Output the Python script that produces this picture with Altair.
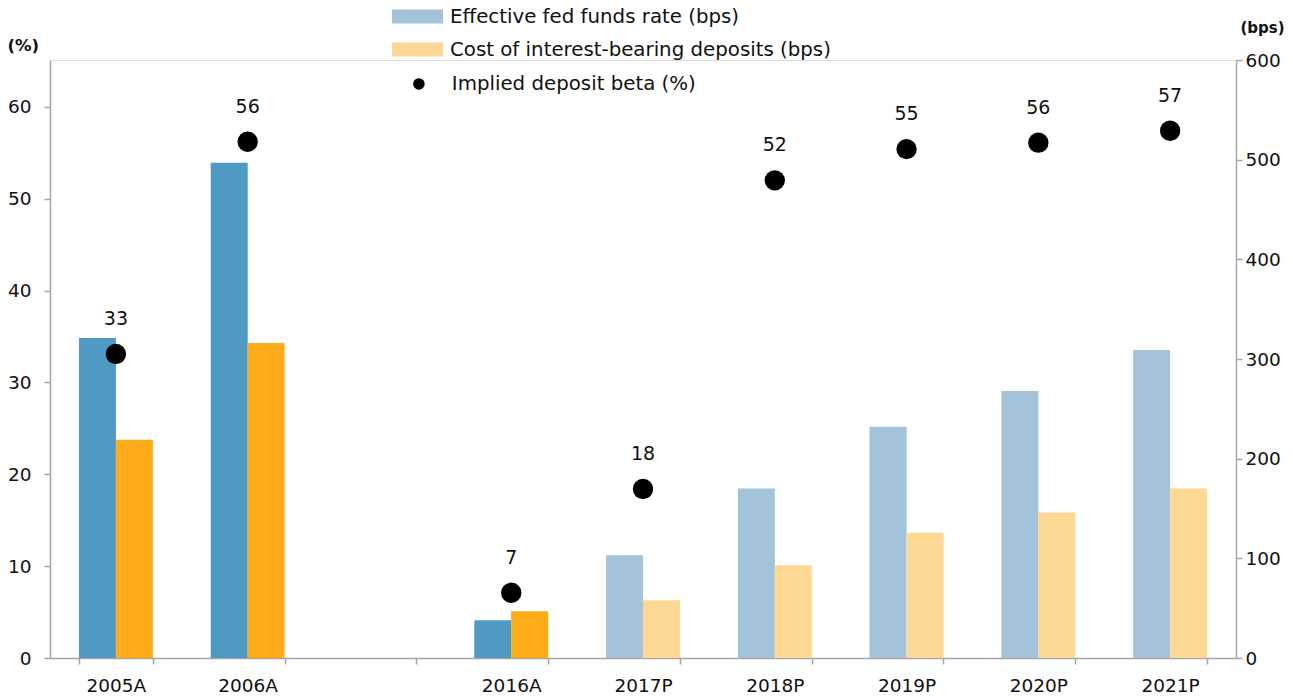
import altair as alt
import pandas as pd

categories = ["2005A", "2006A", " ", "2016A", "2017P", "2018P", "2019P", "2020P", "2021P"]
is_projection = [False, False, False, False, True, True, True, True, True]
fed_funds_bps = [321, 497, None, 38, 103, 170, 232, 268, 309]
deposit_cost_bps = [219, 316, None, 47, 58, 93, 126, 146, 170]
deposit_beta_pct = [33.1, 56.2, None, 7.1, 18.4, 52.0, 55.4, 56.1, 57.4]
beta_labels = ["33", "56", "", "7", "18", "52", "55", "56", "57"]

FED = "Effective fed funds rate (bps)"
DEP = "Cost of interest-bearing deposits (bps)"
BETA = "Implied deposit beta (%)"

rows = []
for c, p, f, d in zip(categories, is_projection, fed_funds_bps, deposit_cost_bps):
    if f is not None:
        rows.append({"cat": c, "series": "a_fed", "val": f,
                     "key": FED if p else "fed_actual"})
    if d is not None:
        rows.append({"cat": c, "series": "b_dep", "val": d,
                     "key": DEP if p else "dep_actual"})
bars_df = pd.DataFrame(rows)
fed_df = bars_df[bars_df.series == "a_fed"]
dep_df = bars_df[bars_df.series == "b_dep"]

beta_df = pd.DataFrame({
    "cat": categories,
    "beta": deposit_beta_pct,
    "label": beta_labels,
    "name": [BETA] * len(categories),
}).dropna()

FONT = "DejaVu Sans"
TXT = "#111111"
AXIS_GRAY = "#a6a6a6"
RECT_PATH = "M-1,-0.27H1V0.27H-1Z"
TICK_FS = 18.5
LEG_FS = 19.8
DOT_FS = 19

x_enc = alt.X(
    "cat:N",
    sort=categories,
    scale=alt.Scale(domain=categories, paddingInner=0.44, paddingOuter=0.22),
    axis=alt.Axis(title=None, tickBand="extent", labelAngle=0, labelFontSize=TICK_FS,
                  labelColor=TXT, labelFont=FONT, labelPadding=12,
                  domainColor=AXIS_GRAY, tickColor=AXIS_GRAY, domainWidth=1.5,
                  tickWidth=1.5, tickSize=6),
)

y_bps = alt.Y(
    "val:Q",
    scale=alt.Scale(domain=[0, 600], nice=False),
    axis=alt.Axis(orient="right", values=[0, 100, 200, 300, 400, 500, 600],
                  title="(bps)", titleAngle=0, titleX=4, titleY=-33,
                  titleAlign="left", titleBaseline="middle", titleFontSize=15,
                  titleFont=FONT, titleFontWeight="bold", titleColor=TXT,
                  labelFontSize=TICK_FS, labelFont=FONT, labelColor=TXT,
                  labelPadding=3, grid=False, domainColor=AXIS_GRAY,
                  tickColor=AXIS_GRAY, domainWidth=1.5, tickWidth=1.5, tickSize=6),
)

xoff = alt.XOffset("series:N", scale=alt.Scale(domain=["a_fed", "b_dep"], paddingInner=0, paddingOuter=0))

fed_bars = alt.Chart(fed_df).mark_bar(size=37).encode(
    x=x_enc,
    xOffset=xoff,
    y=y_bps,
    color=alt.Color(
        "key:N",
        scale=alt.Scale(domain=[FED, "fed_actual"], range=["#a3c3da", "#4f9ac2"]),
        legend=alt.Legend(values=[FED], title=None, orient="none", legendX=342, legendY=-69,
                          symbolType=RECT_PATH, symbolSize=2601, symbolStrokeWidth=0,
                          labelFontSize=LEG_FS, labelFont=FONT, labelColor=TXT,
                          labelOffset=7, labelLimit=500),
    ),
)

dep_bars = alt.Chart(dep_df).mark_bar(size=37).encode(
    x=x_enc,
    xOffset=xoff,
    y=y_bps,
    fill=alt.Fill(
        "key:N",
        scale=alt.Scale(domain=[DEP, "dep_actual"], range=["#fdd894", "#ffab19"]),
        legend=alt.Legend(values=[DEP], title=None, orient="none", legendX=342, legendY=-36,
                          symbolType=RECT_PATH, symbolSize=2601, symbolStrokeWidth=0,
                          labelFontSize=LEG_FS, labelFont=FONT, labelColor=TXT,
                          labelOffset=7, labelLimit=500),
    ),
)

bars = alt.layer(fed_bars, dep_bars)

y_pct = alt.Y(
    "beta:Q",
    scale=alt.Scale(domain=[0, 65.1], nice=False),
    axis=alt.Axis(orient="left", values=[0, 10, 20, 30, 40, 50, 60],
                  title="(%)", titleAngle=0, titleX=-43, titleY=-15,
                  titleAlign="left", titleBaseline="middle", titleFontSize=16.5,
                  titleFont=FONT, titleFontWeight="bold", titleColor=TXT,
                  labelFontSize=TICK_FS, labelFont=FONT, labelColor=TXT,
                  labelPadding=13, grid=False, domainColor=AXIS_GRAY,
                  tickColor=AXIS_GRAY, domainWidth=1.5, tickWidth=1.5, tickSize=6),
)

dots = alt.Chart(beta_df).mark_point(filled=True, size=415, opacity=1, color="black").encode(
    x=x_enc,
    y=y_pct,
    shape=alt.Shape(
        "name:N",
        scale=alt.Scale(domain=[BETA], range=["circle"]),
        legend=alt.Legend(title=None, orient="none", legendX=359, legendY=14,
                          symbolSize=133, symbolFillColor="black", symbolStrokeWidth=0,
                          labelFontSize=LEG_FS, labelFont=FONT, labelColor=TXT,
                          labelOffset=23, labelLimit=500),
    ),
)

dot_labels = alt.Chart(beta_df).mark_text(dy=-35, fontSize=DOT_FS, font=FONT, color=TXT).encode(
    x=x_enc,
    y=y_pct,
    text="label:N",
)

points = alt.layer(dots, dot_labels)

chart = alt.layer(bars, points).resolve_scale(y="independent").properties(
    width=1186,
    height=598,
    autosize=alt.AutoSizeParams(type="none"),
    padding={"left": 42, "top": 52, "right": 49, "bottom": 40},
).configure_view(stroke=None).configure(font=FONT, background="white")

chart.save("out.html", embed_options={"renderer": "svg", "actions": False})
